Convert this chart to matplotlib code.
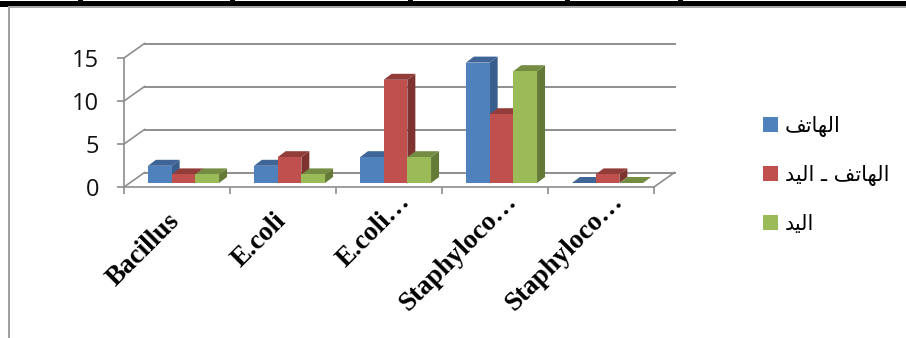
import matplotlib
matplotlib.use("Agg")
import matplotlib.pyplot as plt
from matplotlib.patches import Rectangle, Patch
import numpy as np

categories = ["Bacillus", "E.coli", "E.coli\u2026", "Staphyloco\u2026", "Staphyloco\u2026"]
phone = [2, 2, 3, 14, 0]
phone_hand = [1, 3, 12, 8, 1]
hand = [1, 1, 3, 13, 0]
# Arabic labels in shaped presentation forms, visual order (matplotlib does no shaping)
name_phone = "\ufed2\ufe97\ufe8e\ufeec\ufedf\ufe8d"
name_hand = "\ufeaa\ufef4\ufedf\ufe8d"
name_both = name_hand + " \u0640 " + name_phone
yticks = [0, 5, 10, 15]

W, H = 906, 338
fig = plt.figure(figsize=(W / 100, H / 100), dpi=100, facecolor="white")
ax = fig.add_axes([124 / W, 1 - 187 / H, 530 / W, 129 / H])
ax.set_xlim(0, 5)
ax.set_ylim(0, 15)
ax.patch.set_visible(False)
PX = 5 / 530
PY = 15 / 129
GRID = "#8e8e8e"
wall_dx, wall_dy = 20.5 * PX, 14.5 * PY

for s in ("top", "right"):
    ax.spines[s].set_visible(False)
for s in ("left", "bottom"):
    ax.spines[s].set_color(GRID)
    ax.spines[s].set_linewidth(1.2)

for v in yticks:
    ax.plot([0, wall_dx], [v, v + wall_dy], color=GRID, lw=1.2, clip_on=False, zorder=1)
    ax.plot([wall_dx, 5 + wall_dx], [v + wall_dy] * 2, color=GRID, lw=1.4, clip_on=False, zorder=1)
ax.plot([5, 5 + wall_dx], [0, wall_dy], color=GRID, lw=1.2, clip_on=False, zorder=1)

series = [
    (phone, "#4f81bd", "#3a5f8c", "#3f6597", name_phone),
    (phone_hand, "#c0504d", "#7f3331", "#923d3a", name_both),
    (hand, "#9bbb59", "#667a38", "#748d42", name_hand),
]
bw = 23.7 * PX
x0, y0 = 0.5 + 6.5 * PX, 4 * PY
ddx, ddy = 8 * PX, 6 * PY
z = 3
for j in range(len(categories)):
    for k, (vals, front, side, top, _) in enumerate(series):
        v = vals[j]
        left = j + x0 + (k - 1.5) * bw
        xs = [left + bw, left + bw + ddx, left + bw + ddx, left + bw]
        ys = [y0, y0 + ddy, y0 + v + ddy, y0 + v]
        ax.fill(xs, ys, color=side, lw=0, clip_on=False, zorder=z)
        xs = [left, left + ddx, left + bw + ddx, left + bw]
        ys = [y0 + v, y0 + v + ddy, y0 + v + ddy, y0 + v]
        ax.fill(xs, ys, color=top, lw=0, clip_on=False, zorder=z)
        ax.bar(left, v, bw, bottom=y0, align="edge", color=front, lw=0, clip_on=False, zorder=z)
        z += 1

ax.set_yticks(yticks)
ax.set_yticklabels([str(v) for v in yticks], fontfamily="Open Sans", fontsize=17, color="#111111")
ax.tick_params(axis="y", length=5, width=1.2, color=GRID, pad=13)
ax.set_xticks(range(6))
ax.set_xticklabels([])
ax.tick_params(axis="x", length=5, width=1.2, color=GRID)

for j, c in enumerate(categories):
    off = (6.5, -1.4) if c.endswith("\u2026") else (-6.9, -15.3)
    ax.annotate(c, xy=(j + 0.5, 0), xytext=off, textcoords="offset points",
                rotation=45, rotation_mode="anchor", ha="right", va="top",
                fontfamily="Liberation Serif", fontweight="bold", fontsize=19.5, color="black",
                annotation_clip=False)

handles = [Patch(color=s[1], lw=0, label=s[4]) for s in series]
fig.legend(handles=handles, loc="upper left", bbox_to_anchor=(763 / W, 1 - 116 / H),
           bbox_transform=fig.transFigure, frameon=False, handlelength=0.72, handleheight=0.72,
           handletextpad=0.32, labelspacing=1.34, borderpad=0, borderaxespad=0,
           prop={"family": "DejaVu Sans", "size": 15})

# page frame around the chart
fig.add_artist(Rectangle((0, 1 - 6.5 / H), 1, 5.5 / H, transform=fig.transFigure, color="black", lw=0))
fig.add_artist(Rectangle((8 / W, 1 - 7.5 / H), 898 / W, 1.2 / H, transform=fig.transFigure, color="#a8a8a8", lw=0))
fig.add_artist(Rectangle((7.5 / W, 0), 2 / W, 1 - 6.5 / H, transform=fig.transFigure, color="#a0a0a0", lw=0))
for bx in (78, 230, 408, 565, 678):
    fig.add_artist(Rectangle((bx / W, 1 - 1 / H), 5 / W, 1 / H, transform=fig.transFigure, color="black", lw=0))

fig.savefig("out.png", dpi=100)
